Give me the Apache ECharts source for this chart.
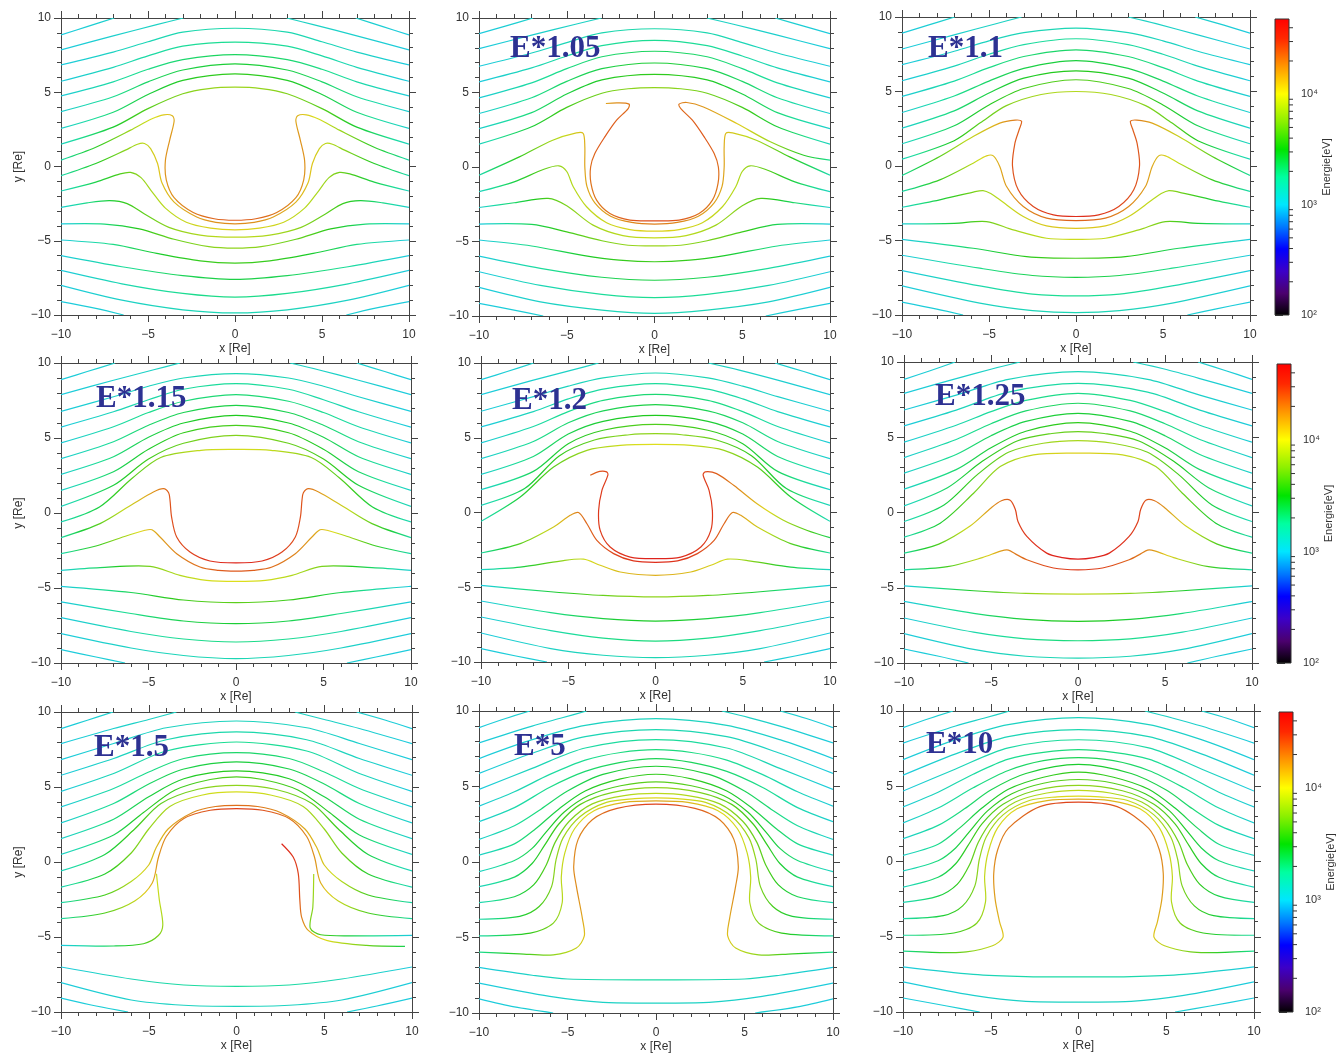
<!DOCTYPE html>
<html>
<head>
<meta charset="utf-8">
<title>Drift paths E-field scaling</title>
<script src="https://cdn.jsdelivr.net/npm/echarts@6/dist/echarts.min.js"></script>
<style>
  html, body { margin: 0; padding: 0; background: #fff; }
  #chart { width: 1339px; height: 1054px; }
</style>
</head>
<body>
<div id="chart"></div>
<script>
// panel titles
var titles = ['', 'E*1.05', 'E*1.1', 'E*1.15', 'E*1.2', 'E*1.25', 'E*1.5', 'E*5', 'E*10'];

// colour bar range [eV] and minor tick values
var cbMin = 100, cbMax = 48000;
var cbMinor = [200, 300, 400, 500, 600, 700, 800, 900, 2000, 3000, 4000, 5000, 6000, 7000, 8000, 9000, 20000, 30000, 40000];

// each path: x,y pairs in Re ; energy: [energy at outer end, energy at closest approach] in eV
var lines1 = [
  [-10,8.86, -8.5,9.42, -6.94,10],
  [6.94,10, 8.5,9.42, 10,8.86],
  [-10,7.85, -7,8.8, -4.5,9.55, -2.97,10],
  [2.97,10, 4.5,9.55, 7,8.8, 10,7.85],
  [-10,6.84, -7,7.7, -5,8.4, -3,9.05, 0,9.31, 3,9.05, 5,8.4, 7,7.7, 10,6.84],
  [-10,5.74, -7,6.68, -5,7.45, -3,8.1, 0,8.37, 3,8.1, 5,7.45, 7,6.68, 10,5.74],
  [-10,4.75, -7,5.7, -5,6.55, -3,7.2, 0,7.54, 3,7.2, 5,6.55, 7,5.7, 10,4.75],
  [-10,3.7, -7,4.7, -5,5.7, -3,6.5, 0,6.91, 3,6.5, 5,5.7, 7,4.7, 10,3.7],
  [-10,2.56, -7,3.65, -5,4.85, -3,5.8, 0,6.24, 3,5.8, 5,4.85, 7,3.65, 10,2.56],
  [-10,1.51, -7,2.65, -5,3.9, -3,4.9, -1.5,5.25, 0,5.34, 1.5,5.25, 3,4.9, 5,3.9, 7,2.65, 10,1.51],
  [-10,0.43, -8,1.3, -6,2.45, -4.8,3.2, -4.1,3.48, -3.6,3.42, -3.5,3.05, -3.75,1.8, -4,0.4, -3.95,-0.9, -3.5,-2.1, -2.4,-3.1, -1.2,-3.52, 0,-3.62, 1.2,-3.52, 2.4,-3.1, 3.5,-2.1, 3.95,-0.9, 4,0.4, 3.75,1.8, 3.5,3.05, 3.6,3.42, 4.1,3.48, 4.8,3.2, 6,2.45, 8,1.3, 10,0.43],
  [-10,-0.62, -8,0.2, -6.3,1.1, -5.6,1.5, -5.2,1.55, -4.85,1.2, -4.45,0.2, -4.2,-1.1, -3.5,-2.4, -2.2,-3.4, -1.1,-3.76, 0,-3.86, 1.1,-3.76, 2.2,-3.4, 3.5,-2.4, 4.2,-1.1, 4.45,0.2, 4.85,1.2, 5.2,1.55, 5.6,1.5, 6.3,1.1, 8,0.2, 10,-0.62],
  [-10,-1.65, -8,-1.05, -6.6,-0.5, -6,-0.4, -5.4,-0.75, -4.8,-1.65, -4,-2.8, -2.8,-3.75, -1.4,-4.15, 0,-4.27, 1.4,-4.15, 2.8,-3.75, 4,-2.8, 4.8,-1.65, 5.4,-0.75, 6,-0.4, 6.6,-0.5, 8,-1.05, 10,-1.65],
  [-10,-2.75, -8.5,-2.45, -7.2,-2.3, -6.2,-2.5, -5.2,-3.2, -3.8,-4.1, -2,-4.62, 0,-4.76, 2,-4.62, 3.8,-4.1, 5.2,-3.2, 6.2,-2.5, 7.2,-2.3, 8.5,-2.45, 10,-2.75],
  [-10,-3.87, -7.5,-3.88, -5.5,-4.2, -3.5,-4.9, -1.5,-5.4, 0,-5.5, 1.5,-5.4, 3.5,-4.9, 5.5,-4.2, 7.5,-3.88, 10,-3.87],
  [-10,-4.95, -7,-5.25, -4.5,-5.85, -2,-6.35, 0,-6.5, 2,-6.35, 4.5,-5.85, 7,-5.25, 10,-4.95],
  [-10,-6, -6.5,-6.75, -3,-7.35, 0,-7.6, 3,-7.35, 6.5,-6.75, 10,-6],
  [-10,-7, -6.5,-7.9, -3,-8.55, 0,-8.8, 3,-8.55, 6.5,-7.9, 10,-7],
  [-10,-8, -6.5,-9.0, -3,-9.65, 0,-9.86, 3,-9.65, 6.5,-9.0, 10,-8],
  [-10,-9.1, -8,-9.55, -6.4,-10],
  [6.4,-10, 8,-9.55, 10,-9.1]
];
var energy1 = [[1000,1150],[1000,1150],[1000,1250],[1000,1250],[1000,1500],[1000,1800],[1050,2300],[1100,2800],[1150,3500],[1300,6500],
  [1500,25000],[1500,18000],[1300,11000],[1150,8000],[1000,6000],[1000,3800],[1000,2600],[1000,1900],[1000,1400],[1000,1100],[1000,1100]];

var lines2 = [
  [-10,8.95, -8.5,9.45, -6.92,10],
  [6.88,10, 8.5,9.45, 10,8.95],
  [-10,7.94, -7,8.85, -4.5,9.58, -3.02,10],
  [2.98,10, 4.5,9.58, 7,8.85, 10,7.94],
  [-10,6.76, -7,7.65, -5,8.35, -3,9.0, 0,9.28, 3,9.0, 5,8.35, 7,7.65, 10,6.76],
  [-10,5.71, -7,6.65, -5,7.45, -3,8.15, 0,8.5, 3,8.15, 5,7.45, 7,6.65, 10,5.71],
  [-10,4.64, -7,5.65, -5,6.6, -3,7.4, 0,7.77, 3,7.4, 5,6.6, 7,5.65, 10,4.64],
  [-10,3.59, -7,4.65, -5,5.75, -3,6.6, 0,6.98, 3,6.6, 5,5.75, 7,4.65, 10,3.59],
  [-10,2.58, -7,3.65, -5,4.9, -3,5.85, 0,6.22, 3,5.85, 5,4.9, 7,3.65, 10,2.58],
  [-10,1.53, -7,2.7, -5,4.0, -3,4.95, -1.5,5.25, 0,5.33, 1.5,5.25, 3,4.95, 5,4.0, 7,2.7, 10,1.53],
  [-2.77,4.26, -2.1,4.3, -1.45,4.22, -1.5,3.92, -2.16,3.14, -2.83,2.02, -3.4,0.9, -3.64,0, -3.62,-1.1, -3.3,-2.22, -2.54,-3.12, -1.4,-3.56, 0,-3.61, 1.4,-3.56, 2.54,-3.12, 3.3,-2.22, 3.62,-1.1, 3.64,0, 3.4,0.9, 2.83,2.02, 2.16,3.14, 1.5,3.92, 1.4,4.22, 1.84,4.33, 2.79,4.03, 4.69,2.92, 6.6,1.69, 8.5,0.79, 10,0.46],
  [-10,-0.55, -7.7,0.68, -5.8,1.8, -4.45,2.29, -4.06,2.25, -3.97,1.35, -3.97,0, -3.85,-1.3, -3.4,-2.4, -2.5,-3.3, -1.3,-3.72, 0,-3.83, 1.3,-3.72, 2.5,-3.3, 3.4,-2.4, 3.85,-1.3, 3.97,0, 3.97,1.35, 4.06,2.25, 4.45,2.29, 5.8,1.8, 7.7,0.68, 10,-0.55],
  [-10,-1.66, -8,-1.0, -6.3,-0.15, -5.45,0.08, -5.0,-0.3, -4.63,-1.33, -3.87,-2.67, -2.73,-3.74, -1.4,-4.2, 0,-4.3, 1.4,-4.2, 2.73,-3.74, 3.87,-2.67, 4.63,-1.33, 5.0,-0.3, 5.45,0.08, 6.3,-0.15, 8,-1.0, 10,-1.66],
  [-10,-2.72, -8,-2.4, -6.06,-2.11, -5,-2.6, -3.5,-3.9, -1.8,-4.6, 0,-4.75, 1.8,-4.6, 3.5,-3.9, 5,-2.6, 6.06,-2.11, 8,-2.4, 10,-2.72],
  [-10,-3.83, -7,-3.85, -5,-4.35, -3,-4.95, -1.5,-5.25, 0,-5.3, 1.5,-5.25, 3,-4.95, 5,-4.35, 7,-3.85, 10,-3.83],
  [-10,-4.9, -7,-5.3, -4,-5.95, -2,-6.25, 0,-6.36, 2,-6.25, 4,-5.95, 7,-5.3, 10,-4.9],
  [-10,-5.98, -6.5,-6.8, -3,-7.4, 0,-7.6, 3,-7.4, 6.5,-6.8, 10,-5.98],
  [-10,-7.03, -6.5,-7.95, -3,-8.55, 0,-8.77, 3,-8.55, 6.5,-7.95, 10,-7.03],
  [-10,-8.08, -6.5,-9.05, -3,-9.6, 0,-9.82, 3,-9.6, 6.5,-9.05, 10,-8.08],
  [-10,-9.15, -8,-9.6, -6.34,-10],
  [6.34,-10, 8,-9.6, 10,-9.15]
];
var energy2 = [[1000,1150],[1000,1150],[1000,1250],[1000,1250],[1000,1500],[1000,1800],[1050,2300],[1100,2800],[1150,3500],[1300,6000],
  [1800,28000],[1500,20000],[1300,11000],[1150,8500],[1000,6500],[1000,3800],[1000,2600],[1000,1800],[1000,1400],[1000,1100],[1000,1100]];

var lines3 = [
  [-10,8.92, -8.5,9.45, -6.97,10],
  [6.85,10, 8.5,9.45, 10,8.92],
  [-10,7.85, -7,8.8, -4.6,9.55, -3.13,10],
  [3.01,10, 4.6,9.55, 7,8.8, 10,7.85],
  [-10,6.8, -7,7.7, -5,8.4, -3,8.95, 0,9.26, 3,8.95, 5,8.4, 7,7.7, 10,6.8],
  [-10,5.72, -7,6.7, -5,7.5, -3,8.15, 0,8.54, 3,8.15, 5,7.5, 7,6.7, 10,5.72],
  [-10,4.67, -7,5.7, -5,6.6, -3,7.35, 0,7.8, 3,7.35, 5,6.6, 7,5.7, 10,4.67],
  [-10,3.59, -7,4.7, -5,5.7, -3,6.55, 0,7.07, 3,6.55, 5,5.7, 7,4.7, 10,3.59],
  [-10,2.54, -7,3.7, -5,4.9, -3,5.9, 0,6.39, 3,5.9, 5,4.9, 7,3.7, 10,2.54],
  [-10,1.49, -7,2.7, -5,4.1, -3,5.2, 0,5.79, 3,5.2, 5,4.1, 7,2.7, 10,1.49],
  [-10,0.46, -7,1.7, -5.5,2.9, -4,4.05, -2,4.8, 0,5.0, 2,4.8, 4,4.05, 5.5,2.9, 7,1.7, 10,0.46],
  [-10,-0.64, -7.83,0.64, -5.91,1.98, -4.38,2.88, -3.5,3.08, -3.13,3.0, -3.25,2.5, -3.51,1.53, -3.65,0, -3.32,-1.6, -2.46,-2.72, -1.3,-3.28, 0,-3.39, 1.3,-3.28, 2.46,-2.72, 3.32,-1.6, 3.65,0, 3.51,1.53, 3.25,2.5, 3.13,3.0, 3.5,3.08, 4.38,2.88, 5.91,1.98, 7.83,0.64, 10,-0.64],
  [-10,-1.71, -7.83,-0.93, -5.91,0.19, -5.14,0.68, -4.75,0.68, -4.38,-0.03, -3.99,-1.38, -3.03,-2.72, -1.69,-3.5, 0,-3.66, 1.69,-3.5, 3.03,-2.72, 3.99,-1.38, 4.38,-0.03, 4.75,0.68, 5.14,0.68, 5.91,0.19, 7.83,-0.93, 10,-1.71],
  [-10,-2.77, -7.83,-2.27, -5.9,-1.75, -5.34,-1.65, -4.9,-1.85, -4.38,-2.27, -3.03,-3.39, -1.69,-4.02, 0,-4.18, 1.69,-4.02, 3.03,-3.39, 4.38,-2.27, 4.9,-1.85, 5.34,-1.65, 5.9,-1.75, 7.83,-2.27, 10,-2.77],
  [-10,-3.89, -7,-3.85, -5.14,-3.73, -3.61,-4.29, -1.69,-4.85, 0,-4.92, 1.69,-4.85, 3.61,-4.29, 5.14,-3.73, 7,-3.85, 10,-3.89],
  [-10,-4.92, -5.91,-5.52, -2.84,-6.08, 0,-6.19, 2.84,-6.08, 5.91,-5.52, 10,-4.92],
  [-10,-5.99, -5.53,-6.86, -2.5,-7.35, 0,-7.47, 2.5,-7.35, 5.53,-6.86, 10,-5.99],
  [-10,-7.02, -5.53,-8.05, -2.5,-8.6, 0,-8.72, 2.5,-8.6, 5.53,-8.05, 10,-7.02],
  [-10,-8.05, -5.53,-9.2, -2.5,-9.7, 0,-9.84, 2.5,-9.7, 5.53,-9.2, 10,-8.05],
  [-10,-9.13, -8,-9.6, -6.49,-10],
  [6.4,-10, 8,-9.6, 10,-9.13]
];
var energy3 = [[1000,1150],[1000,1150],[1000,1250],[1000,1250],[1000,1400],[1000,1700],[1050,2200],[1100,2700],[1150,3300],[1250,4300],[1350,7500],
  [1700,38000],[1500,24000],[1300,12000],[1100,9000],[1000,4000],[1000,2600],[1000,1800],[1000,1400],[1000,1100],[1000,1100]];

var lines4 = [
  [-10,8.89, -8.5,9.43, -6.91,10],
  [6.9,10, 8.5,9.43, 10,8.89],
  [-10,7.89, -7,8.85, -4.7,9.55, -3.2,10],
  [3.09,10, 4.7,9.55, 7,8.85, 10,7.89],
  [-10,6.78, -7,7.75, -5,8.45, -3,9.0, 0,9.29, 3,9.0, 5,8.45, 7,7.75, 10,6.78],
  [-10,5.73, -7,6.75, -5,7.55, -3,8.25, 0,8.62, 3,8.25, 5,7.55, 7,6.75, 10,5.73],
  [-10,4.67, -7,5.75, -5,6.7, -3,7.45, 0,7.89, 3,7.45, 5,6.7, 7,5.75, 10,4.67],
  [-10,3.62, -7,4.75, -5,5.85, -3,6.7, 0,7.18, 3,6.7, 5,5.85, 7,4.75, 10,3.62],
  [-10,2.58, -7,3.75, -5,5.05, -3,6.0, 0,6.51, 3,6.0, 5,5.05, 7,3.75, 10,2.58],
  [-10,1.51, -7,2.75, -5,4.25, -3,5.35, 0,5.84, 3,5.35, 5,4.25, 7,2.75, 10,1.51],
  [-10,0.44, -7,1.85, -5,3.6, -3,4.65, 0,5.18, 3,4.65, 5,3.6, 7,1.85, 10,0.44],
  [-10,-0.6, -7.8,0.4, -5.9,2.35, -4.3,3.7, -2,4.18, 0,4.24, 2,4.18, 4.3,3.7, 5.9,2.35, 7.8,0.4, 10,-0.6],
  [-10,-1.64, -7.77,-0.71, -5.87,0.62, -4.72,1.4, -4.15,1.62, -3.85,1.35, -3.77,0.84, -3.68,-0.27, -3.39,-1.6, -2.63,-2.6, -1.49,-3.2, 0,-3.33, 1.49,-3.2, 2.63,-2.6, 3.39,-1.6, 3.68,-0.27, 3.77,0.84, 3.85,1.35, 4.15,1.62, 4.72,1.4, 5.87,0.62, 7.77,-0.71, 10,-1.64],
  [-10,-2.71, -8,-2.2, -6.2,-1.5, -5.2,-1.15, -4.8,-1.12, -4.34,-1.6, -3.39,-2.71, -2.06,-3.6, -1,-3.82, 0,-3.87, 1,-3.82, 2.06,-3.6, 3.39,-2.71, 4.34,-1.6, 4.8,-1.12, 5.2,-1.15, 6.2,-1.5, 8,-2.2, 10,-2.71],
  [-10,-3.82, -7.77,-3.64, -4.91,-3.56, -3.2,-4.16, -1.68,-4.49, 0,-4.56, 1.68,-4.49, 3.2,-4.16, 4.91,-3.56, 7.77,-3.64, 10,-3.82],
  [-10,-4.89, -6,-5.3, -3,-5.8, 0,-5.98, 3,-5.8, 6,-5.3, 10,-4.89],
  [-10,-5.93, -6,-6.7, -3,-7.2, 0,-7.38, 3,-7.2, 6,-6.7, 10,-5.93],
  [-10,-6.98, -6,-7.9, -3,-8.4, 0,-8.6, 3,-8.4, 6,-7.9, 10,-6.98],
  [-10,-8.04, -6,-9.0, -3,-9.5, 0,-9.71, 3,-9.5, 6,-9.0, 10,-8.04],
  [-10,-9.11, -8,-9.6, -6.34,-10],
  [6.34,-10, 8,-9.6, 10,-9.11]
];
var energy4 = [[1000,1150],[1000,1150],[1000,1250],[1000,1250],[1000,1400],[1000,1700],[1050,2100],[1100,2600],[1150,3200],[1200,4000],[1300,5500],[1400,9500],
  [1600,42000],[1500,26000],[1100,10000],[1000,4500],[1000,2800],[1000,1900],[1000,1400],[1000,1100],[1000,1100]];

var lines5 = [
  [-10,8.88, -8.5,9.43, -6.98,10],
  [6.85,10, 8.5,9.43, 10,8.88],
  [-10,7.88, -7,8.85, -4.8,9.52, -3.26,10],
  [3.03,10, 4.8,9.52, 7,8.85, 10,7.88],
  [-10,6.77, -7,7.75, -5,8.45, -3,9.0, 0,9.33, 3,9.0, 5,8.45, 7,7.75, 10,6.77],
  [-10,5.72, -7,6.75, -5,7.6, -3,8.25, 0,8.62, 3,8.25, 5,7.6, 7,6.75, 10,5.72],
  [-10,4.65, -7,5.75, -5,6.75, -3,7.5, 0,7.9, 3,7.5, 5,6.75, 7,5.75, 10,4.65],
  [-10,3.6, -7,4.75, -5,6.0, -3,6.8, 0,7.21, 3,6.8, 5,6.0, 7,4.75, 10,3.6],
  [-10,2.55, -7,3.75, -5,5.25, -3,6.1, 0,6.5, 3,6.1, 5,5.25, 7,3.75, 10,2.55],
  [-10,1.53, -7,2.75, -5,4.6, -3,5.5, 0,5.9, 3,5.5, 5,4.6, 7,2.75, 10,1.53],
  [-10,0.48, -7.5,1.6, -5.5,3.8, -3.5,4.85, -1.5,5.2, 0,5.27, 1.5,5.2, 3.5,4.85, 5.5,3.8, 7.5,1.6, 10,0.48],
  [-10,-0.59, -7.75,1.04, -5.84,3.04, -3.93,4.16, -2.02,4.49, 0,4.56, 2.02,4.49, 3.93,4.16, 5.84,3.04, 7.75,1.04, 10,-0.59],
  [-3.74,2.49, -3.2,2.75, -2.8,2.72, -2.73,2.5, -3.07,1.48, -3.26,0.14, -3.17,-1.2, -2.6,-2.31, -1.45,-2.98, 0,-3.09, 1.45,-2.98, 2.6,-2.31, 3.17,-1.2, 3.26,0.14, 3.07,1.48, 2.73,2.5, 2.85,2.72, 3.5,2.6, 4.5,1.8, 5.8,0.6, 7.3,-0.5, 8.7,-1.2, 10,-1.68],
  [-10,-2.71, -7.75,-2.08, -5.84,-0.97, -4.89,-0.19, -4.41,0, -3.93,-0.75, -3.36,-1.87, -2.4,-2.75, -1.26,-3.24, 0,-3.33, 1.26,-3.24, 2.4,-2.75, 3.36,-1.87, 3.93,-0.75, 4.41,0, 4.89,-0.19, 5.84,-0.97, 7.75,-2.08, 10,-2.71],
  [-10,-3.82, -7.75,-3.65, -5.46,-3.25, -4.12,-3.12, -3.17,-3.53, -2.02,-3.98, 0,-4.2, 2.02,-3.98, 3.17,-3.53, 4.12,-3.12, 5.46,-3.25, 7.75,-3.65, 10,-3.82],
  [-10,-4.87, -6,-5.3, -3,-5.55, 0,-5.65, 3,-5.55, 6,-5.3, 10,-4.87],
  [-10,-5.92, -6,-6.7, -3,-7.1, 0,-7.26, 3,-7.1, 6,-6.7, 10,-5.92],
  [-10,-6.99, -6,-7.9, -3,-8.4, 0,-8.6, 3,-8.4, 6,-7.9, 10,-6.99],
  [-10,-8.06, -6,-9.1, -3,-9.55, 0,-9.71, 3,-9.55, 6,-9.1, 10,-8.06],
  [-10,-9.11, -8,-9.6, -6.22,-10],
  [6.22,-10, 8,-9.6, 10,-9.11]
];
var energy5 = [[1000,1150],[1000,1150],[1000,1250],[1000,1250],[1000,1400],[1000,1700],[1050,2100],[1100,2600],[1150,3200],[1200,4200],[1300,6000],[1400,10000],
  [2500,44000],[1600,38000],[1200,14000],[1000,6000],[1000,3000],[1000,2000],[1000,1400],[1000,1100],[1000,1100]];

var lines6 = [
  [-10,8.85, -8.5,9.42, -7.06,10],
  [6.9,10, 8.5,9.42, 10,8.85],
  [-10,7.92, -7,8.9, -4.9,9.55, -3.33,10],
  [3.17,10, 4.9,9.55, 7,8.9, 10,7.92],
  [-10,6.81, -7,7.8, -4,8.85, 0,9.36, 4,8.85, 7,7.8, 10,6.81],
  [-10,5.75, -7,6.8, -4,8.0, 0,8.58, 4,8.0, 7,6.8, 10,5.75],
  [-10,4.67, -7,5.8, -5,6.7, -3,7.45, 0,7.92, 3,7.45, 5,6.7, 7,5.8, 10,4.67],
  [-10,3.65, -7,4.85, -5,5.9, -3,6.75, 0,7.26, 3,6.75, 5,5.9, 7,4.85, 10,3.65],
  [-10,2.61, -7,3.85, -5,5.1, -3,6.05, 0,6.59, 3,6.05, 5,5.1, 7,3.85, 10,2.61],
  [-10,1.55, -7,2.85, -5,4.3, -3,5.4, 0,5.97, 3,5.4, 5,4.3, 7,2.85, 10,1.55],
  [-10,0.44, -7.5,1.65, -5.5,3.4, -3.5,4.75, -1.5,5.25, 0,5.38, 1.5,5.25, 3.5,4.75, 5.5,3.4, 7.5,1.65, 10,0.44],
  [-10,-0.6, -7.7,0.5, -5.8,2.5, -4,4.0, -2,4.6, 0,4.78, 2,4.6, 4,4.0, 5.8,2.5, 7.7,0.5, 10,-0.6],
  [-10,-1.64, -7.92,-0.71, -6,1.28, -4.47,3.05, -2.56,3.83, 0,3.94, 2.56,3.83, 4.47,3.05, 6,1.28, 7.92,-0.71, 10,-1.64],
  [-10,-2.7, -8,-2.1, -6.2,-0.9, -5,0.3, -4.4,0.78, -3.9,0.82, -3.6,0.2, -3.45,-0.6, -2.94,-1.59, -1.8,-2.7, -0.9,-3.0, 0,-3.1, 0.9,-3.0, 1.8,-2.7, 2.94,-1.59, 3.45,-0.6, 3.6,0.2, 3.9,0.82, 4.4,0.78, 5,0.3, 6.2,-0.9, 8,-2.1, 10,-2.7],
  [-10,-3.81, -7.5,-3.6, -5.5,-3.0, -4.4,-2.55, -4.0,-2.5, -3.6,-2.75, -2.94,-3.14, -1.41,-3.69, 0,-3.81, 1.41,-3.69, 2.94,-3.14, 3.6,-2.75, 4.0,-2.5, 4.4,-2.55, 5.5,-3.0, 7.5,-3.6, 10,-3.81],
  [-10,-4.87, -6,-5.2, -3,-5.38, 0,-5.42, 3,-5.38, 6,-5.2, 10,-4.87],
  [-10,-5.91, -6,-6.7, -3,-7.1, 0,-7.23, 3,-7.1, 6,-6.7, 10,-5.91],
  [-10,-7.01, -6,-7.95, -3,-8.4, 0,-8.52, 3,-8.4, 6,-7.95, 10,-7.01],
  [-10,-8.05, -6,-9.1, -3,-9.55, 0,-9.67, 3,-9.55, 6,-9.1, 10,-8.05],
  [-10,-9.07, -8,-9.55, -6.29,-10],
  [6.29,-10, 8,-9.55, 10,-9.07]
];
var energy6 = [[1000,1150],[1000,1150],[1000,1250],[1000,1250],[1000,1350],[1000,1600],[1050,1900],[1100,2300],[1150,2800],[1200,3500],[1250,4800],[1350,7000],[1500,11000],
  [1700,46000],[1400,32000],[1000,8000],[1000,3200],[1000,2000],[1000,1400],[1000,1100],[1000,1100]];

var lines7 = [
  [-10,8.89, -8.5,9.45, -7.03,10],
  [6.84,10, 8.5,9.45, 10,8.89],
  [-10,7.89, -7,8.9, -5,9.5, -3.42,10],
  [3.33,10, 5,9.5, 7,8.9, 10,7.89],
  [-10,6.82, -7,7.9, -4,8.95, 0,9.4, 4,8.95, 7,7.9, 10,6.82],
  [-10,5.78, -7,6.9, -4,8.15, 0,8.67, 4,8.15, 7,6.9, 10,5.78],
  [-10,4.71, -7,5.9, -4,7.4, 0,8.0, 4,7.4, 7,5.9, 10,4.71],
  [-10,3.67, -7,4.9, -5,6.0, -3,6.9, 0,7.29, 3,6.9, 5,6.0, 7,4.9, 10,3.67],
  [-10,2.6, -7,3.9, -5,5.2, -3,6.2, 0,6.67, 3,6.2, 5,5.2, 7,3.9, 10,2.6],
  [-10,1.56, -7,2.85, -5,4.35, -3,5.55, 0,6.07, 3,5.55, 5,4.35, 7,2.85, 10,1.56],
  [-10,0.51, -7,1.8, -5.3,3.3, -3.5,4.8, -1.5,5.5, 0,5.67, 1.5,5.5, 3.5,4.8, 5.3,3.3, 7,1.8, 10,0.51],
  [-10,-0.6, -7.5,0.5, -5.8,2.2, -4.3,3.9, -2.2,4.85, 0,5.11, 2.2,4.85, 4.3,3.9, 5.8,2.2, 7.5,0.5, 10,-0.6],
  [-10,-1.67, -7.5,-0.8, -6,0.6, -5,2.2, -3.8,3.7, -2,4.45, 0,4.67, 2,4.45, 3.8,3.7, 5,2.2, 6,0.6, 7.5,-0.8, 10,-1.67],
  [-10,-2.71, -7.5,-2.2, -6,-1.3, -5,-0.2, -4.6,0.9, -3.9,2.2, -2.5,3.3, -1.2,3.7, 0,3.78, 1.2,3.7, 2.5,3.3, 3.9,2.2, 4.6,0.9, 5,-0.2, 6,-1.3, 7.5,-2.2, 10,-2.71],
  [-10,-3.78, -7.5,-3.4, -5.8,-2.6, -4.8,-1.4, -4.45,0.3, -4.0,1.7, -3.0,2.9, -1.5,3.45, 0,3.56, 1.5,3.45, 3.0,2.9, 4.0,1.7, 4.45,0.3, 4.8,-1.4, 5.8,-2.6, 7.5,-3.4, 10,-3.78],
  [-4.56,-0.78, -4.4,-2.5, -4.2,-4.2, -4.45,-4.9, -5.3,-5.45, -7,-5.6, -10,-5.56],
  [4.4,-0.8, 4.35,-3.0, 4.2,-4.4, 4.8,-4.85, 7,-4.92, 10,-4.89],
  [2.57,1.22, 3.23,0.33, 3.52,-0.78, 3.61,-2.56, 3.71,-3.67, 4.09,-4.56, 5.13,-5.22, 7.41,-5.56, 9.6,-5.62],
  [-10,-7.0, -6,-7.8, -3,-8.2, 0,-8.29, 3,-8.2, 6,-7.8, 10,-7.0],
  [-10,-8.04, -6,-9.2, -3,-9.55, 0,-9.62, 3,-9.55, 6,-9.2, 10,-8.04],
  [-10,-9.07, -8,-9.6, -6.18,-10],
  [6.3,-10, 8,-9.6, 10,-9.07]
];
var energy7 = [[1000,1150],[1000,1150],[1000,1250],[1000,1250],[1000,1300],[1000,1500],[1000,1800],[1050,2200],[1100,2700],[1150,3300],[1200,4200],[1300,6000],[1400,9500],
  [1500,22000],[1600,30000],[1000,9000],[1000,7000],[2500,42000],[1000,1700],[1000,1300],[1000,1100],[1000,1100]];

var lines8 = [
  [-10,8.9, -8.5,9.5, -7.13,10],
  [7.02,10, 8.5,9.5, 10,8.9],
  [-10,7.89, -7,9.0, -5.3,9.55, -3.92,10],
  [3.72,10, 5.3,9.55, 7,9.0, 10,7.89],
  [-10,6.85, -7,8.1, -4,9.05, 0,9.49, 4,9.05, 7,8.1, 10,6.85],
  [-10,5.86, -7,7.2, -4,8.3, 0,8.77, 4,8.3, 7,7.2, 10,5.86],
  [-10,4.8, -7,6.2, -4,7.55, 0,8.11, 4,7.55, 7,6.2, 10,4.8],
  [-10,3.7, -8,4.65, -6,5.8, -4,6.75, -2,7.25, 0,7.44, 2,7.25, 4,6.75, 6,5.8, 8,4.65, 10,3.7],
  [-10,2.67, -8,3.6, -6,4.95, -4,6.0, -2,6.6, 0,6.85, 2,6.6, 4,6.0, 6,4.95, 8,3.6, 10,2.67],
  [-10,1.5, -8,2.4, -6.5,3.5, -5,4.7, -3,5.8, 0,6.34, 3,5.8, 5,4.7, 6.5,3.5, 8,2.4, 10,1.5],
  [-10,0.46, -8,1.2, -6.8,2.2, -5.5,3.5, -4,4.7, -2,5.5, 0,5.81, 2,5.5, 4,4.7, 5.5,3.5, 6.8,2.2, 8,1.2, 10,0.46],
  [-10,-0.64, -8,0.1, -7,0.9, -6.2,2.0, -5.2,3.3, -3.8,4.4, -2,5.05, 0,5.31, 2,5.05, 3.8,4.4, 5.2,3.3, 6.2,2.0, 7,0.9, 8,0.1, 10,-0.64],
  [-10,-1.63, -8,-1.0, -7,-0.1, -6.3,1.1, -5.5,2.5, -4.3,3.8, -2.5,4.6, 0,4.93, 2.5,4.6, 4.3,3.8, 5.5,2.5, 6.3,1.1, 7,-0.1, 8,-1.0, 10,-1.63],
  [-10,-2.69, -8,-2.3, -6.9,-1.5, -6.2,-0.2, -5.7,1.3, -4.9,2.7, -3.6,3.85, -1.8,4.4, 0,4.54, 1.8,4.4, 3.6,3.85, 4.9,2.7, 5.7,1.3, 6.2,-0.2, 6.9,-1.5, 8,-2.3, 10,-2.69],
  [-10,-3.79, -7.7,-3.6, -6.6,-2.95, -5.9,-1.63, -5.65,0.13, -5.25,1.6, -4.3,3.0, -2.8,3.95, -1.2,4.2, 0,4.25, 1.2,4.2, 2.8,3.95, 4.3,3.0, 5.25,1.6, 5.65,0.13, 5.9,-1.63, 6.6,-2.95, 7.7,-3.6, 10,-3.79],
  [-10,-4.89, -7.1,-4.71, -5.8,-4.05, -5.3,-2.7, -5.35,-1.0, -5.15,0.6, -4.6,2.2, -3.5,3.4, -1.8,3.95, 0,4.05, 1.8,3.95, 3.5,3.4, 4.6,2.2, 5.15,0.6, 5.35,-1.0, 5.3,-2.7, 5.8,-4.05, 7.1,-4.71, 10,-4.89],
  [-10,-5.97, -7.7,-6.08, -5.8,-6.15, -4.5,-5.7, -4.05,-4.9, -4.15,-3.8, -4.5,-1.6, -4.65,-0.3, -4.4,1.5, -3.6,2.8, -2.2,3.55, 0,3.83, 2.2,3.55, 3.6,2.8, 4.4,1.5, 4.65,-0.3, 4.5,-1.6, 4.15,-3.8, 4.05,-4.9, 4.5,-5.7, 5.8,-6.15, 7.7,-6.08, 10,-5.97],
  [-10,-6.98, -7,-7.5, -5,-7.75, 0,-7.8, 5,-7.75, 7,-7.5, 10,-6.98],
  [-10,-8.02, -6,-8.9, -3,-9.3, 0,-9.34, 3,-9.3, 6,-8.9, 10,-8.02],
  [-10,-9.07, -8,-9.6, -5.81,-10],
  [5.6,-10, 8,-9.6, 10,-9.07]
];
var energy8 = [[1000,1150],[1000,1150],[1000,1250],[1000,1250],[1000,1300],[1000,1450],[1000,1700],[1050,2000],[1100,2400],[1150,2900],[1200,3600],[1250,4500],[1300,6000],[1400,8000],[1500,10500],[1600,15000],[1800,30000],
  [1000,1600],[1000,1250],[1000,1100],[1000,1100]];

var lines9 = [
  [-10,8.89, -8.5,9.5, -7.15,10],
  [7.02,10, 8.5,9.5, 10,8.89],
  [-10,7.87, -7,9.0, -5.3,9.55, -3.92,10],
  [3.78,10, 5.3,9.55, 7,9.0, 10,7.87],
  [-10,6.77, -7,8.1, -4,9.1, 0,9.56, 4,9.1, 7,8.1, 10,6.77],
  [-10,5.73, -7,7.15, -4,8.3, 0,8.76, 4,8.3, 7,7.15, 10,5.73],
  [-10,4.68, -7,6.15, -4,7.55, 0,8.09, 4,7.55, 7,6.15, 10,4.68],
  [-10,3.62, -8,4.6, -6,5.8, -4,6.8, -2,7.25, 0,7.43, 2,7.25, 4,6.8, 6,5.8, 8,4.6, 10,3.62],
  [-10,2.56, -8,3.55, -6,4.9, -4,6.05, -2,6.7, 0,6.9, 2,6.7, 4,6.05, 6,4.9, 8,3.55, 10,2.56],
  [-10,1.52, -8,2.4, -6.5,3.5, -5,4.75, -3,5.85, 0,6.45, 3,5.85, 5,4.75, 6.5,3.5, 8,2.4, 10,1.52],
  [-10,0.41, -8,1.15, -6.8,2.2, -5.5,3.55, -4,4.8, -2,5.6, 0,5.94, 2,5.6, 4,4.8, 5.5,3.55, 6.8,2.2, 8,1.15, 10,0.41],
  [-10,-0.63, -8,0.05, -7,0.9, -6.2,2.0, -5.2,3.35, -3.8,4.5, -2,5.2, 0,5.45, 2,5.2, 3.8,4.5, 5.2,3.35, 6.2,2.0, 7,0.9, 8,0.05, 10,-0.63],
  [-10,-1.7, -8,-1.05, -7,-0.15, -6.3,1.05, -5.5,2.5, -4.3,3.8, -2.5,4.7, 0,5.06, 2.5,4.7, 4.3,3.8, 5.5,2.5, 6.3,1.05, 7,-0.15, 8,-1.05, 10,-1.7],
  [-10,-2.71, -8,-2.3, -6.9,-1.5, -6.2,-0.2, -5.7,1.3, -4.9,2.75, -3.6,3.95, -1.8,4.55, 0,4.73, 1.8,4.55, 3.6,3.95, 4.9,2.75, 5.7,1.3, 6.2,-0.2, 6.9,-1.5, 8,-2.3, 10,-2.71],
  [-10,-3.8, -7.7,-3.6, -6.6,-2.95, -5.9,-1.6, -5.65,0.15, -5.25,1.65, -4.3,3.1, -2.8,4.05, -1.2,4.3, 0,4.35, 1.2,4.3, 2.8,4.05, 4.3,3.1, 5.25,1.65, 5.65,0.15, 5.9,-1.6, 6.6,-2.95, 7.7,-3.6, 10,-3.8],
  [-10,-4.9, -7.1,-4.75, -5.8,-4.1, -5.3,-2.7, -5.35,-1.0, -5.15,0.6, -4.6,2.25, -3.5,3.5, -1.8,4.05, 0,4.15, 1.8,4.05, 3.5,3.5, 4.6,2.25, 5.15,0.6, 5.35,-1.0, 5.3,-2.7, 5.8,-4.1, 7.1,-4.75, 10,-4.9],
  [-10,-5.95, -7.7,-6.05, -6.39,-6.01, -4.9,-5.6, -4.3,-5.02, -4.5,-4.0, -4.75,-2.5, -4.83,-0.8, -4.6,0.8, -4.0,2.2, -2.2,3.65, 0,3.95, 2.2,3.65, 4.0,2.2, 4.6,0.8, 4.83,-0.8, 4.75,-2.5, 4.5,-4.0, 4.3,-5.02, 4.9,-5.6, 6.39,-6.01, 7.7,-6.05, 10,-5.95],
  [-10,-7.0, -6,-7.5, -3,-7.65, 0,-7.67, 3,-7.65, 6,-7.5, 10,-7.0],
  [-10,-8.0, -6,-8.9, -3,-9.3, 0,-9.34, 3,-9.3, 6,-8.9, 10,-8.0],
  [-10,-9.07, -7.5,-9.6, -5.63,-10],
  [5.5,-10, 7.5,-9.6, 10,-9.07]
];
var energy9 = [[1000,1150],[1000,1150],[1000,1250],[1000,1250],[1000,1300],[1000,1450],[1000,1700],[1050,2000],[1100,2400],[1150,2900],[1200,3600],[1250,4500],[1300,6000],[1400,8000],[1500,10500],[1600,15000],[1800,30000],
  [1000,1600],[1000,1250],[1000,1100],[1000,1100]];

var panelLines = [lines1, lines2, lines3, lines4, lines5, lines6, lines7, lines8, lines9];
var panelEnergy = [energy1, energy2, energy3, energy4, energy5, energy6, energy7, energy8, energy9];

// layout (pixels)
var boxes = [[61,18,348,297],[479,18,351,298],[902,17,348,298],
             [61,363,350,300],[481,363,349,299],[904,362,348,301],
             [61,712,351,300],[479,711,354,302],[903,711,351,301]];
var cbBoxes = [[1275,19,14,296],[1277,364,14,299],[1279,712,14,300]];
var titlePos = [null,[510,33],[928,33],[96,383],[512,385],[935,381],[94,732],[514,731],[926,729]];

// rainbow colour table, keyed on log10(E)
var cmap = [[2.0,[0,0,0]],[2.2,[75,0,110]],[2.4,[60,0,200]],[2.6,[0,0,255]],[2.8,[0,120,255]],[3.0,[0,230,255]],
            [3.25,[0,255,160]],[3.5,[0,228,0]],[3.75,[140,240,0]],[4.0,[255,255,0]],[4.25,[255,150,0]],[4.5,[255,40,0]],[4.68,[255,0,0]]];
var lgMin = Math.log10(cbMin), lgMax = Math.log10(cbMax);

function clamp01(v) { return Math.max(0, Math.min(1, v)); }
function rgbAt(lg) {
  if (lg <= cmap[0][0]) return cmap[0][1];
  for (var i = 1; i < cmap.length; i++) {
    if (lg <= cmap[i][0]) {
      var a = cmap[i - 1], b = cmap[i], t = (lg - a[0]) / (b[0] - a[0]);
      return [0, 1, 2].map(function (k) { return a[1][k] + (b[1][k] - a[1][k]) * t; });
    }
  }
  return cmap[cmap.length - 1][1];
}
function lineColor(lg) {
  var c = rgbAt(lg);
  return 'rgb(' + c.map(function (v) { return Math.round(v * 0.76 + 28); }).join(',') + ')';
}
var cbStops = cmap.map(function (s) {
  return { offset: clamp01((s[0] - lgMin) / (lgMax - lgMin)), color: 'rgb(' + s[1].join(',') + ')' };
});

function pathRenderer(lines, energy) {
  return function (params, api) {
    var pts = lines[params.dataIndex], en = energy[params.dataIndex];
    var c = api.coord([0, 0]);
    var pix = [], rmin = Infinity, rmax = 0;
    for (var i = 0; i < pts.length; i += 2) {
      var p = api.coord([pts[i], pts[i + 1]]);
      pix.push(p);
      var d = Math.sqrt((p[0] - c[0]) * (p[0] - c[0]) + (p[1] - c[1]) * (p[1] - c[1]));
      if (d < rmin) rmin = d;
      if (d > rmax) rmax = d;
    }
    var lo = Math.log10(en[1]), hi = Math.log10(en[0]);
    var stops = [];
    for (var k = 0; k <= 6; k++) {
      var r = rmin + (rmax - rmin) * k / 6;
      stops.push({ offset: clamp01(r / rmax), color: lineColor(lo + (hi - lo) * k / 6) });
    }
    return {
      type: 'polyline',
      shape: { points: pix, smooth: 0.3 },
      style: { fill: 'none', stroke: new echarts.graphic.RadialGradient(c[0], c[1], rmax, stops, true), lineWidth: 1.2 }
    };
  };
}

function colorbarRenderer(params, api) {
  var tl = api.coord([0, cbMax]), br = api.coord([1, cbMin]);
  var kids = [{
    type: 'rect',
    shape: { x: tl[0], y: tl[1], width: br[0] - tl[0], height: br[1] - tl[1] },
    style: { fill: new echarts.graphic.LinearGradient(0, 1, 0, 0, cbStops), stroke: '#333', lineWidth: 1 }
  }];
  cbMinor.forEach(function (v) {
    var p = api.coord([1, v]);
    kids.push({ type: 'line', shape: { x1: p[0], y1: p[1], x2: p[0] + 4, y2: p[1] }, style: { stroke: '#333', lineWidth: 1 } });
  });
  return { type: 'group', children: kids };
}

var axisCol = '#444';
function minusFmt(v) { return String(v).replace('-', '\u2212'); }
function frameAxis(gi, pos, labels, name) {
  var isX = (pos === 'bottom' || pos === 'top');
  var ax = {
    type: 'value', gridIndex: gi, position: pos, min: -10, max: 10, interval: 5,
    axisLine: { show: true, onZero: false, lineStyle: { color: axisCol, width: 1 } },
    axisTick: { show: true, inside: false, length: 7, lineStyle: { color: axisCol } },
    minorTick: { show: true, splitNumber: 5, length: 4, lineStyle: { color: axisCol } },
    splitLine: { show: false }, minorSplitLine: { show: false },
    axisLabel: { show: labels, color: '#333', fontSize: 12, fontFamily: 'Liberation Sans', margin: isX ? 14 : 10, formatter: minusFmt, showMinLabel: true, showMaxLabel: true }
  };
  if (name) {
    ax.name = name;
    ax.nameLocation = 'middle';
    ax.nameGap = isX ? 28 : 36;
    ax.nameTextStyle = { color: '#333', fontSize: 12, fontFamily: 'Liberation Sans' };
  }
  return ax;
}

var option = { animation: false, backgroundColor: '#fff', grid: [], xAxis: [], yAxis: [], series: [], title: [] };

boxes.forEach(function (b, i) {
  option.grid.push({ left: b[0], top: b[1], width: b[2], height: b[3], containLabel: false, outerBoundsMode: 'none' });
  option.xAxis.push(frameAxis(i, 'bottom', true, 'x [Re]'));
  option.xAxis.push(frameAxis(i, 'top', false, null));
  option.yAxis.push(frameAxis(i, 'left', true, i % 3 === 0 ? 'y [Re]' : null));
  option.yAxis.push(frameAxis(i, 'right', false, null));
  var ls = panelLines[i];
  option.series.push({
    type: 'custom', coordinateSystem: 'cartesian2d', xAxisIndex: 2 * i, yAxisIndex: 2 * i,
    clip: true, silent: true,
    data: ls.map(function (l) { return [l[0], l[1]]; }),
    renderItem: pathRenderer(ls, panelEnergy[i])
  });
  if (titles[i]) {
    option.title.push({
      text: titles[i], left: titlePos[i][0], top: titlePos[i][1], padding: 0,
      textStyle: { fontFamily: 'Liberation Serif', fontWeight: 'bold', fontSize: 31, color: '#2d3192' }
    });
  }
});

cbBoxes.forEach(function (b, k) {
  var gi = boxes.length + k;
  option.grid.push({ left: b[0], top: b[1], width: b[2], height: b[3], containLabel: false, outerBoundsMode: 'none' });
  option.xAxis.push({ type: 'value', gridIndex: gi, min: 0, max: 1, show: false });
  option.yAxis.push({
    type: 'log', logBase: 10, gridIndex: gi, position: 'right', min: cbMin, max: cbMax,
    axisLine: { show: false },
    axisTick: { show: true, inside: false, length: 8, lineStyle: { color: '#333' } },
    minorTick: { show: false },
    splitLine: { show: false },
    axisLabel: {
      color: '#333', fontSize: 11, fontFamily: 'Liberation Sans', margin: 12,
      formatter: function (v) {
        var e = Math.round(Math.log10(v));
        if (Math.abs(Math.log10(v) - e) > 1e-6) return '';
        return '10' + ({ 2: '\u00b2', 3: '\u00b3', 4: '\u2074' })[e];
      }
    },
    name: 'Energie[eV]', nameLocation: 'middle', nameRotate: 90, nameGap: 32,
    nameTextStyle: { color: '#333', fontSize: 11, fontFamily: 'Liberation Sans' }
  });
  option.series.push({
    type: 'custom', coordinateSystem: 'cartesian2d', xAxisIndex: 18 + k, yAxisIndex: 18 + k,
    silent: true, data: [[0, cbMin]], renderItem: colorbarRenderer
  });
});

var chart = echarts.init(document.getElementById('chart'), null, { renderer: 'canvas' });
chart.setOption(option);
</script>
</body>
</html>
